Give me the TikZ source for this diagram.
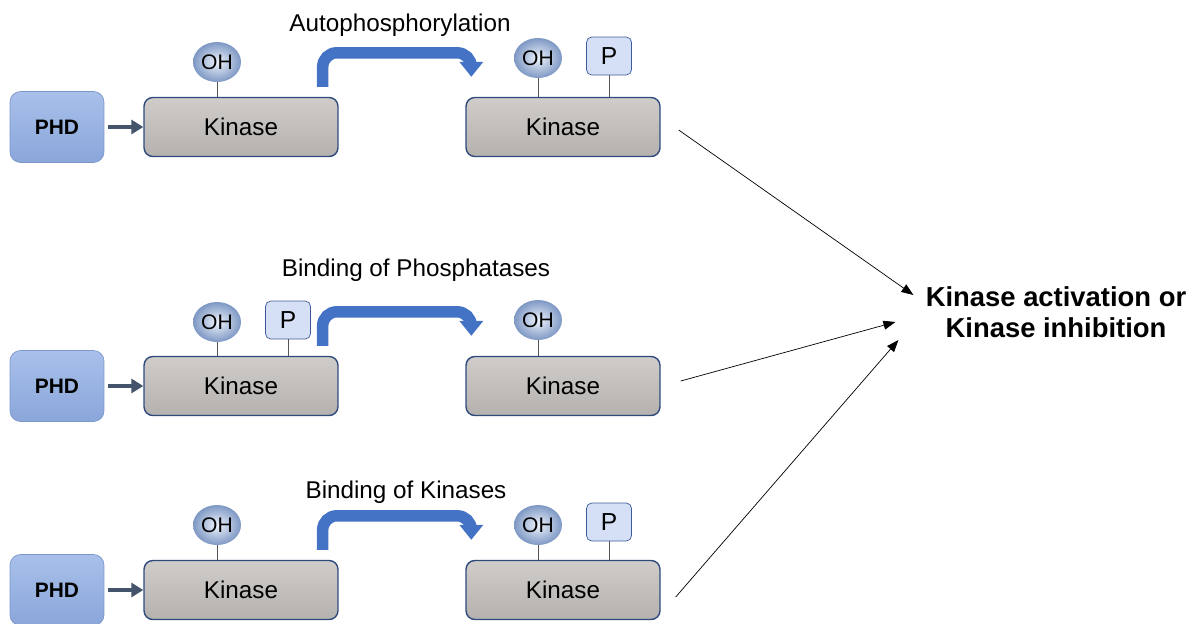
\documentclass[tikz,border=0pt]{standalone}
\usepackage{fontspec}
\setmainfont{Liberation Sans}
\usetikzlibrary{arrows.meta,positioning,calc,shapes.geometric}
\definecolor{PhdBlue}{HTML}{8AA6DA}
\definecolor{PhdLight}{HTML}{A8C0EA}
\definecolor{PhdEdge}{HTML}{7C97C9}
\definecolor{KinGray}{HTML}{B5B1AE}
\definecolor{KinLight}{HTML}{CFCCC9}
\definecolor{KinEdge}{HTML}{2E4A7D}
\definecolor{OhLight}{HTML}{EEF3FB}
\definecolor{OhBlue}{HTML}{7E98C4}
\definecolor{PFill}{HTML}{D5E0F6}
\definecolor{PEdge}{HTML}{3D5B99}
\definecolor{StemGray}{HTML}{555555}
\definecolor{FeedSlate}{HTML}{44546A}
\definecolor{BendBlue}{HTML}{4472C4}

\begin{document}
\begin{tikzpicture}[x=0.02cm,y=-0.02cm,
    phd/.style={rounded corners=6pt,draw=PhdEdge,top color=PhdLight,bottom color=PhdBlue,minimum width=1.88cm,minimum height=1.42cm,font=\fontsize{11.9}{13}\selectfont\bfseries},
    kin/.style={rounded corners=5pt,draw=KinEdge,thick,top color=KinLight,bottom color=KinGray,minimum width=3.88cm,minimum height=1.18cm,font=\fontsize{13.8}{15}\selectfont},
    oh/.style={ellipse,inner color=OhLight,outer color=OhBlue,minimum width=0.96cm,minimum height=0.8cm,inner sep=0pt,font=\fontsize{12}{13}\selectfont},
    pbox/.style={rounded corners=3pt,draw=PEdge,fill=PFill,minimum width=0.9cm,minimum height=0.76cm,inner sep=0pt,font=\fontsize{14}{15}\selectfont},
    stem/.style={draw=StemGray,thin},
    feed/.style={-{Triangle[length=2.4mm,width=2.8mm]},draw=FeedSlate,line width=2.2pt},
    turnarr/.style={-{Triangle[length=3mm,width=4.6mm]},draw=BendBlue,line width=2.3mm,rounded corners=8pt},
    outarr/.style={-{Triangle[length=2.4mm,width=1.8mm]},thin},
    lbl/.style={font=\fontsize{13.8}{15}\selectfont}
  ]
    \useasboundingbox (0,0) rectangle (1195,623);

    % row 1: autophosphorylation
    \node[phd] (phda) at (57,127) {PHD};
    \node[kin] (k1a) at (241,127) {Kinase};
    \node[kin] (k2a) at (563,127) {Kinase};
    \node[oh] (oh1a) at (217,62) {OH};
    \node[oh] (oh2a) at (538,58) {OH};
    \node[pbox] (p2a) at (609,56) {P};
    \draw[stem] (oh1a) -- (oh1a |- k1a.north);
    \draw[stem] (oh2a) -- (oh2a |- k2a.north);
    \draw[stem] (p2a) -- (p2a |- k2a.north);
    \draw[feed] (phda.east) ++(4,0) -- (k1a.west);
    \draw[turnarr] ($(k1a.north east)+(-16,-10)$) |- ($(k2a.north west)+(6,-44)$) -- ($(k2a.north west)+(6,-20)$);
    \node[lbl] (ta) at (400,25) {Autophosphorylation};

    % row 2: phosphatases
    \node[phd] (phdb) at (57,386) {PHD};
    \node[kin] (k1b) at (241,386) {Kinase};
    \node[kin] (k2b) at (563,386) {Kinase};
    \node[oh] (oh1b) at (217,322) {OH};
    \node[pbox] (p1b) at (288,320) {P};
    \node[oh] (oh2b) at (538,320) {OH};
    \draw[stem] (oh1b) -- (oh1b |- k1b.north);
    \draw[stem] (p1b) -- (p1b |- k1b.north);
    \draw[stem] (oh2b) -- (oh2b |- k2b.north);
    \draw[feed] (phdb.east) ++(4,0) -- (k1b.west);
    \draw[turnarr] ($(k1b.north east)+(-16,-10)$) |- ($(k2b.north west)+(6,-44)$) -- ($(k2b.north west)+(6,-20)$);
    \node[lbl] (tb) at (416,270) {Binding of Phosphatases};

    % row 3: kinases
    \node[phd] (phdc) at (57,590) {PHD};
    \node[kin] (k1c) at (241,590) {Kinase};
    \node[kin] (k2c) at (563,590) {Kinase};
    \node[oh] (oh1c) at (217,525) {OH};
    \node[oh] (oh2c) at (538,525) {OH};
    \node[pbox] (p2c) at (609,522) {P};
    \draw[stem] (oh1c) -- (oh1c |- k1c.north);
    \draw[stem] (oh2c) -- (oh2c |- k2c.north);
    \draw[stem] (p2c) -- (p2c |- k2c.north);
    \draw[feed] (phdc.east) ++(4,0) -- (k1c.west);
    \draw[turnarr] ($(k1c.north east)+(-16,-10)$) |- ($(k2c.north west)+(6,-44)$) -- ($(k2c.north west)+(6,-20)$);
    \node[lbl] (tc) at (406,492) {Binding of Kinases};

    % outcome
    \node[align=center,inner sep=0pt,font=\fontsize{15.6}{17.6}\selectfont\bfseries] (res) at (1056,312) {Kinase activation or\\Kinase inhibition};
    \draw[outarr] ($(k2a.east)+(18,3)$) -- ($(res.west)+(-12,-17)$);
    \draw[outarr] ($(k2b.east)+(20,-5)$) -- ($(res.west)+(-30,10)$);
    \draw[outarr] ($(k2c.east)+(15,7)$) -- ($(res.west)+(-27,28)$);
  \end{tikzpicture}
\end{document}
